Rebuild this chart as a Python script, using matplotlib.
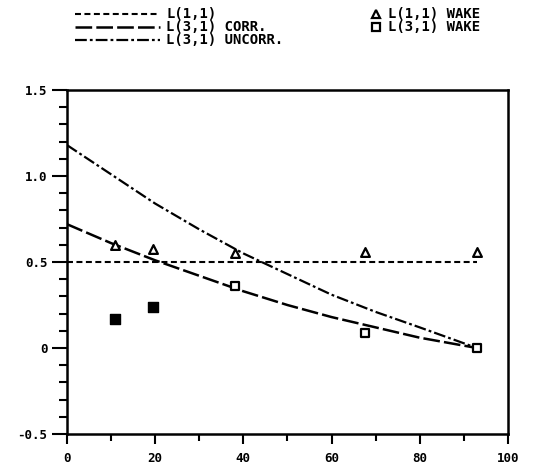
import matplotlib
matplotlib.use("Agg")
import matplotlib.pyplot as plt
from matplotlib.lines import Line2D

plt.rcParams["lines.scale_dashes"] = False

# curves
curve_x = [0, 10, 20, 30, 40, 50, 60, 70, 80, 93]
l11 = [0.5, 0.5, 0.5, 0.5, 0.5, 0.5, 0.5, 0.5, 0.5, 0.5]
l31_corr = [0.72, 0.61, 0.51, 0.42, 0.33, 0.25, 0.18, 0.12, 0.06, 0.0]
l31_uncorr = [1.18, 1.01, 0.84, 0.69, 0.55, 0.43, 0.31, 0.21, 0.12, 0.0]

# wake points
tri_x = [11, 19.5, 38, 67.5, 93]
tri_y = [0.60, 0.575, 0.55, 0.56, 0.56]
sq_x = [38, 67.5, 93]
sq_y = [0.36, 0.09, 0.0]
sq_fill_x = [11, 19.5]
sq_fill_y = [0.17, 0.24]

DOT = (4.3, 2.5)
DASH = (12, 3)
DASHDOT = (8.5, 2.2, 2, 2.2)

tick_font = dict(family="DejaVu Sans Mono", weight="bold", size=9)
leg_font = dict(family="DejaVu Sans Mono", weight="bold", size=10)

fig = plt.figure(figsize=(5.38, 4.74), dpi=100)
ax = fig.add_axes([0.1245, 0.0844, 0.8195, 0.7256])

ax.plot(curve_x, l11, color="k", lw=1.5, dashes=DOT)
ax.plot(curve_x, l31_corr, color="k", lw=1.8, dashes=DASH)
ax.plot(curve_x, l31_uncorr, color="k", lw=1.6, dashes=DASHDOT)

ax.scatter(tri_x, tri_y, marker="^", s=40, facecolor="w", edgecolor="k", lw=1.6, zorder=5)
ax.scatter(sq_x, sq_y, marker="s", s=36, facecolor="w", edgecolor="k", lw=1.6, zorder=5)
ax.scatter(sq_fill_x, sq_fill_y, marker="s", s=55, facecolor="k", edgecolor="k", zorder=5)

ax.set_xlim(0, 100)
ax.set_ylim(-0.5, 1.5)
ax.set_xticks([0, 20, 40, 60, 80, 100])
ax.set_xticks([10, 30, 50, 70, 90], minor=True)
ax.set_yticks([-0.5, 0, 0.5, 1.0, 1.5])
ax.set_yticklabels(["-0.5", "0", "0.5", "1.0", "1.5"])
ax.set_yticks([i / 10 for i in range(-5, 16)], minor=True)
ax.tick_params(axis="both", which="both", direction="out", width=1.5, colors="k")
ax.tick_params(axis="y", which="major", length=11, pad=3)
ax.tick_params(axis="y", which="minor", length=6)
ax.tick_params(axis="x", which="major", length=7, pad=6)
ax.tick_params(axis="x", which="minor", length=5)
for lab in ax.get_xticklabels() + ax.get_yticklabels():
    lab.set_fontfamily(tick_font["family"])
    lab.set_fontweight("bold")
    lab.set_fontsize(tick_font["size"])
for sp in ax.spines.values():
    sp.set_linewidth(1.8)

# legend drawn above the axes in pixel positions
W, H = 538, 474
def fx(px): return px / W
def fy(py): return 1 - py / H

legend_rows = [("L(1,1)", DOT, 1.5), ("L(3,1) CORR.", DASH, 1.8),
               ("L(3,1) UNCORR.", DASHDOT, 1.6)]
for i, (label, dash, lw) in enumerate(legend_rows):
    y = 14 + 13 * i
    fig.add_artist(Line2D([fx(75), fx(160)], [fy(y), fy(y)], color="k", lw=lw,
                          dashes=dash, transform=fig.transFigure))
    fig.text(fx(166), fy(y), label, va="center", ha="left", **leg_font)

for i, (label, mk) in enumerate([("L(1,1) WAKE", "^"), ("L(3,1) WAKE", "s")]):
    y = 14 + 13 * i
    fig.add_artist(Line2D([fx(376)], [fy(y)], marker=mk, ms=6, mfc="w", mec="k",
                          mew=1.6, ls="none", transform=fig.transFigure))
    fig.text(fx(388), fy(y), label, va="center", ha="left", **leg_font)

fig.savefig("out.png", dpi=100)
